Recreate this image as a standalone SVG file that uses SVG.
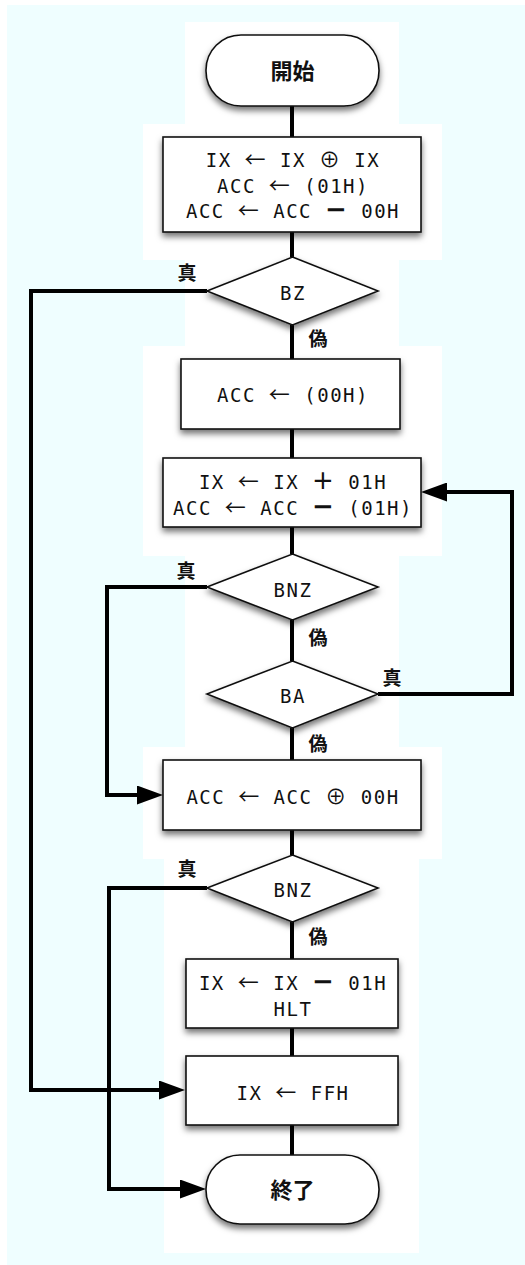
<svg xmlns="http://www.w3.org/2000/svg" width="525" height="1265" viewBox="0 0 525 1265">
<defs>
<filter id="sh" x="-20%" y="-20%" width="140%" height="150%">
<feDropShadow dx="0" dy="4" stdDeviation="3" flood-color="#000" flood-opacity="0.55"/>
</filter>
<marker id="ah" markerUnits="userSpaceOnUse" markerWidth="26" markerHeight="19" refX="4" refY="9.5" orient="auto">
<path d="M0,0 L26,9.5 L0,19 z" fill="#000"/>
</marker>
</defs>
<style>
.nd{fill:#fff;stroke:#111;stroke-width:1.6;filter:url(#sh)}
.cn{fill:none;stroke:#000;stroke-width:4}
.ar{marker-end:url(#ah)}
.t{font-family:"DejaVu Sans Mono","Liberation Mono",monospace;font-size:19px;letter-spacing:1.5px;fill:#111;text-anchor:middle}
.s{font-family:"Noto Sans CJK JP","Noto Sans CJK SC",sans-serif;font-size:21px}
.m{font-family:"DejaVu Sans",sans-serif;font-size:26px;font-weight:bold}
.p{font-family:"DejaVu Sans",sans-serif;font-size:26px}
.j{font-family:"Noto Sans CJK JP","Noto Sans CJK SC",sans-serif;font-weight:bold;font-size:22px;fill:#111;text-anchor:middle}
.l{font-family:"Noto Sans CJK JP","Noto Sans CJK SC",sans-serif;font-weight:bold;font-size:19px;fill:#111;text-anchor:middle}
</style>
<rect x="7" y="5" width="518" height="1260" fill="#effeff"/>
<g id="panels" fill="#fff">
<rect x="185" y="22" width="214" height="102"/>
<rect x="143" y="124" width="299" height="136"/>
<rect x="185" y="260" width="214" height="86"/>
<rect x="143" y="346" width="299" height="210"/>
<rect x="185" y="556" width="214" height="191"/>
<rect x="143" y="747" width="299" height="112"/>
<rect x="164" y="859" width="255" height="394"/>
</g>
<g id="connectors">
<path class="cn" d="M292,106 V137"/>
<path class="cn" d="M292,232 V257"/>
<path class="cn" d="M292,325 V359"/>
<path class="cn" d="M292,429 V458"/>
<path class="cn" d="M292,527 V554"/>
<path class="cn" d="M292,620 V661"/>
<path class="cn" d="M292,728 V760"/>
<path class="cn" d="M292,830 V855"/>
<path class="cn" d="M292,922 V959"/>
<path class="cn" d="M292,1028 V1056"/>
<path class="cn" d="M292,1125 V1155"/>
<path class="cn ar" d="M207,291 H31 V1090 H163"/>
<path class="cn ar" d="M207,587 H107 V795 H141"/>
<path class="cn ar" d="M378,694 H512 V492 H443"/>
<path class="cn ar" d="M207,888 H109 V1189 H184"/>
<text class="l" x="187" y="280">真</text>
<text class="l" x="318" y="346">偽</text>
<text class="l" x="186" y="578">真</text>
<text class="l" x="318" y="645">偽</text>
<text class="l" x="392" y="685">真</text>
<text class="l" x="318" y="751">偽</text>
<text class="l" x="187" y="876">真</text>
<text class="l" x="318" y="944">偽</text>
</g>
<g id="start">
<rect class="nd" x="206" y="35" width="173" height="71" rx="35" ry="35"/>
<text class="j" x="292.5" y="79">開始</text>
</g>
<g id="box1">
<rect class="nd" x="163" y="137" width="258" height="95"/>
<text class="t" x="293" y="167">IX <tspan class="s">←</tspan> IX <tspan class="s">⊕</tspan> IX</text>
<text class="t" x="293" y="193">ACC <tspan class="s">←</tspan> (01H)</text>
<text class="t" x="293" y="218">ACC <tspan class="s">←</tspan> ACC <tspan class="m">−</tspan> 00H</text>
</g>
<g id="bz">
<polygon class="nd" points="292.5,257 378,291 292.5,325 207,291"/>
<text class="t" x="293" y="300">BZ</text>
</g>
<g id="box2">
<rect class="nd" x="181" y="359" width="219" height="70"/>
<text class="t" x="293" y="402">ACC <tspan class="s">←</tspan> (00H)</text>
</g>
<g id="box3">
<rect class="nd" x="163" y="458" width="258" height="69"/>
<text class="t" x="293" y="489">IX <tspan class="s">←</tspan> IX <tspan class="p">+</tspan> 01H</text>
<text class="t" x="293" y="515">ACC <tspan class="s">←</tspan> ACC <tspan class="m">−</tspan> (01H)</text>
</g>
<g id="bnz1">
<polygon class="nd" points="292.5,554 378,587 292.5,620 207,587"/>
<text class="t" x="293" y="597">BNZ</text>
</g>
<g id="ba">
<polygon class="nd" points="292.5,661 378,694 292.5,728 207,694"/>
<text class="t" x="293" y="703">BA</text>
</g>
<g id="box4">
<rect class="nd" x="163" y="760" width="258" height="70"/>
<text class="t" x="293" y="804">ACC <tspan class="s">←</tspan> ACC <tspan class="s">⊕</tspan> 00H</text>
</g>
<g id="bnz2">
<polygon class="nd" points="292.5,855 378,888 292.5,922 207,888"/>
<text class="t" x="293" y="897">BNZ</text>
</g>
<g id="box5">
<rect class="nd" x="186" y="959" width="212" height="69"/>
<text class="t" x="293" y="990">IX <tspan class="s">←</tspan> IX <tspan class="m">−</tspan> 01H</text>
<text class="t" x="293" y="1016">HLT</text>
</g>
<g id="box6">
<rect class="nd" x="186" y="1056" width="212" height="69"/>
<text class="t" x="293" y="1100">IX <tspan class="s">←</tspan> FFH</text>
</g>
<g id="end">
<rect class="nd" x="206" y="1155" width="173" height="69" rx="34" ry="34"/>
<text class="j" x="292.5" y="1198">終了</text>
</g>
</svg>
